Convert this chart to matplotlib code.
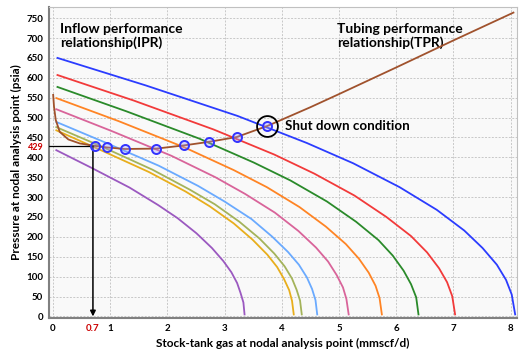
import matplotlib.pyplot as plt

plt.rcParams['font.family'] = ['Lato', 'DejaVu Sans']
plt.rcParams['font.weight'] = 'bold'

# IPR curves, top to bottom
ipr_colors = ['#2b3cff', '#f23a3a', '#2a8a2a', '#ff8424', '#d9649a',
              '#6aaaff', '#a4b35a', '#e8ae1c', '#9b59c0']

ipr_q = [
    [0.08, 1.62, 3.23, 4.44, 5.25, 6.06, 6.71, 7.19, 7.51, 7.76, 7.92, 8.02, 8.08],
    [0.08, 1.41, 2.81, 3.87, 4.57, 5.27, 5.83, 6.26, 6.54, 6.75, 6.89, 6.98, 7.03],
    [0.08, 1.28, 2.56, 3.51, 4.15, 4.79, 5.30, 5.69, 5.94, 6.13, 6.26, 6.35, 6.39],
    [0.06, 1.15, 2.30, 3.16, 3.74, 4.31, 4.77, 5.12, 5.35, 5.52, 5.64, 5.71, 5.75],
    [0.06, 1.03, 2.07, 2.84, 3.36, 3.88, 4.29, 4.60, 4.81, 4.96, 5.07, 5.13, 5.17],
    [0.06, 0.92, 1.85, 2.54, 3.00, 3.47, 3.83, 4.11, 4.30, 4.44, 4.53, 4.59, 4.62],
    [0.06, 0.87, 1.74, 2.39, 2.83, 3.26, 3.61, 3.87, 4.05, 4.18, 4.26, 4.32, 4.35],
    [0.06, 0.84, 1.68, 2.32, 2.74, 3.16, 3.49, 3.75, 3.92, 4.04, 4.13, 4.18, 4.21],
    [0.06, 0.67, 1.34, 1.84, 2.18, 2.51, 2.78, 2.98, 3.12, 3.22, 3.28, 3.33, 3.35],
]
ipr_p = [
    [650, 581, 504, 436, 385, 325, 268, 216, 172, 130, 92, 55, 5],
    [607, 543, 470, 407, 359, 304, 250, 202, 161, 121, 86, 51, 5],
    [577, 516, 447, 387, 342, 289, 238, 192, 153, 115, 81, 48, 5],
    [549, 491, 425, 368, 325, 275, 226, 182, 145, 110, 77, 46, 5],
    [521, 466, 404, 350, 308, 261, 215, 173, 138, 104, 73, 44, 5],
    [489, 437, 379, 328, 289, 245, 201, 162, 130, 98, 69, 41, 5],
    [476, 426, 369, 319, 282, 238, 196, 158, 126, 95, 67, 40, 5],
    [468, 418, 363, 314, 277, 234, 193, 155, 124, 94, 66, 39, 5],
    [418, 374, 324, 280, 247, 209, 172, 139, 111, 84, 59, 35, 5],
]

# TPR curve
tpr_q = [0.005, 0.02, 0.05, 0.12, 0.27, 0.47, 0.73, 0.94, 1.26, 1.81, 2.29,
         2.73, 3.21, 3.75, 4.5, 5.0, 6.0, 7.0, 8.05]
tpr_p = [557, 527, 494, 464, 445, 435, 429, 425, 421, 422, 430,
         439, 451, 479, 526, 559, 626, 694, 764]

# intersection points
int_q = [0.73, 0.94, 1.26, 1.81, 2.29, 2.73, 3.21, 3.75]
int_p = [429, 425, 421, 422, 430, 439, 451, 479]

shut_q, shut_p = 3.75, 479
op_q, op_p = 0.7, 429

fig = plt.figure(figsize=(5.2, 3.51), dpi=100)
ax = fig.add_axes([0.094, 0.094, 0.9, 0.886])
ax.set_facecolor('#f9f9f9')

for q, p, c in zip(ipr_q, ipr_p, ipr_colors):
    ax.plot(q, p, color=c, lw=1.3, zorder=3)

ax.plot(tpr_q, tpr_p, color='#a0522d', lw=1.3, zorder=4)

ax.plot(int_q, int_p, 'o', ms=6.5, mfc=(0.6, 0.6, 1, 0.35), mec='#3333ff',
        mew=1.4, zorder=5)
ax.plot([shut_q], [shut_p], 'o', ms=15, mfc='none', mec='black', mew=1.3, zorder=6)

# operating point guide
ax.plot([-0.07, op_q], [op_p, op_p], color='black', lw=0.9, zorder=4)
ax.annotate('', xy=(op_q, 0), xytext=(op_q, op_p),
            arrowprops=dict(arrowstyle='-|>', color='black', lw=1.1,
                            mutation_scale=8, shrinkA=0, shrinkB=0), zorder=4)
ax.annotate('429', xy=(0, op_p), xycoords=ax.get_yaxis_transform(),
            xytext=(-4, -1), textcoords='offset points', ha='right', va='center',
            color='#cc0000', fontsize=6.5, fontweight='bold')
ax.annotate('0.7', xy=(op_q, 0), xycoords=ax.get_xaxis_transform(),
            xytext=(0, -4), textcoords='offset points', ha='center', va='top',
            color='#cc0000', fontsize=7, fontweight='bold')

ax.text(0.12, 739, 'Inflow performance\nrelationship(IPR)', fontsize=10,
        fontweight='bold', va='top', ha='left', linespacing=1.15)
ax.text(4.96, 739, 'Tubing performance\nrelationship(TPR)', fontsize=10,
        fontweight='bold', va='top', ha='left', linespacing=1.15)
ax.text(4.06, shut_p, 'Shut down condition', fontsize=9.6, fontweight='bold',
        va='center', ha='left')

ax.set_xlim(-0.07, 8.11)
ax.set_ylim(-4, 778)
ax.set_xticks(range(0, 9))
ax.set_yticks(range(0, 751, 50))
ax.tick_params(length=0, labelsize=7, pad=4)
ax.grid(True, color='#c8c8c8', lw=0.7, ls=(0, (2, 1.5)))
ax.set_axisbelow(True)

for s in ['left', 'bottom']:
    ax.spines[s].set_color('#808080')
    ax.spines[s].set_linewidth(1.5)
for s in ['top', 'right']:
    ax.spines[s].set_color('#c0c0c0')
    ax.spines[s].set_linewidth(0.8)

ax.set_xlabel('Stock-tank gas at nodal analysis point (mmscf/d)', fontsize=8.5,
              fontweight='bold', labelpad=4)
ax.set_ylabel('Pressure at nodal analysis point (psia)', fontsize=8.5,
              fontweight='bold', labelpad=3)

plt.savefig('out.png', dpi=100)
